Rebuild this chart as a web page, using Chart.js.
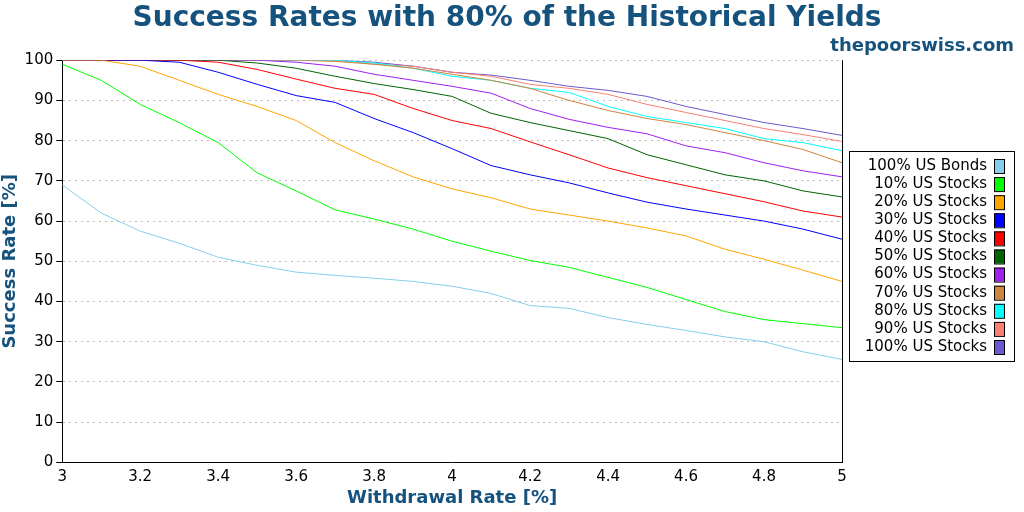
<!DOCTYPE html>
<html><head><meta charset="utf-8">
<script src="https://cdn.jsdelivr.net/npm/chart.js@4"></script>
<style>html,body{margin:0;padding:0;background:#fff}#w{width:1024px;height:512px}</style>
</head><body><div id="w"><canvas id="c"></canvas></div>
<script>
const rates = [3.0,3.1,3.2,3.3,3.4,3.5,3.6,3.7,3.8,3.9,4.0,4.1,4.2,4.3,4.4,4.5,4.6,4.7,4.8,4.9,5.0];
const labels = ['100% US Bonds','10% US Stocks','20% US Stocks','30% US Stocks','40% US Stocks','50% US Stocks','60% US Stocks','70% US Stocks','80% US Stocks','90% US Stocks','100% US Stocks'];
const colors = ['#87ceeb','#00ff00','#ffa500','#0000ff','#ff0000','#006400','#a020f0','#cd853f','#00ffff','#fa8072','#6a5acd'];
const bonds100 = [69,62,57.5,54.5,51,49,47.3,46.5,45.8,45,43.8,42,39,38.3,36,34.3,32.8,31.2,30,27.5,25.6];
const stocks10 = [99,95,89,84.5,79.5,72,67.5,62.8,60.5,58,55,52.5,50.2,48.5,46,43.5,40.5,37.5,35.5,34.5,33.5];
const stocks20 = [100,100,98.5,95,91.5,88.5,85,79.5,75,71,68,65.8,63,61.5,60,58.3,56.3,53,50.5,47.8,45];
const stocks30 = [100,100,100,99.5,97,94,91.2,89.5,85.5,82,78,73.8,71.5,69.5,67,64.7,63,61.5,60,58,55.5];
const stocks40 = [100,100,100,100,99.5,97.7,95.3,93,91.5,88,85,83,79.7,76.5,73.2,70.8,68.8,66.8,64.8,62.5,61];
const stocks50 = [100,100,100,100,100,99.3,98,96,94.2,92.7,91,86.8,84.5,82.5,80.5,76.5,74,71.5,70,67.5,66];
const stocks60 = [100,100,100,100,100,100,99.5,98.5,96.5,95,93.5,91.8,88,85.3,83.3,81.7,78.7,77,74.5,72.5,71];
const stocks70 = [100,100,100,100,100,100,100,99.7,99,98,96.5,95,93,90,87.5,85.5,84,82,80,77.8,74.5];
const stocks80 = [100,100,100,100,100,100,100,100,99.3,98,96,95,93,92,88.5,86,84.5,83,80.5,79.5,77.5];
const stocks90 = [100,100,100,100,100,100,100,100,99,98.5,97,96,94,93,91.5,89,87,85,83,81.5,79.8];
const stocks100 = [100,100,100,100,100,100,100,100,99.5,98.5,97,96.3,95,93.5,92.5,91,88.5,86.5,84.5,83,81.3];
const series = [bonds100,stocks10,stocks20,stocks30,stocks40,stocks50,stocks60,stocks70,stocks80,stocks90,stocks100];
const blue = '#15527e';

const legendBox = {
  id:'legendBox',
  afterDraw(chart){
    const ctx = chart.ctx, a = chart.chartArea;
    ctx.save();
    ctx.strokeStyle='#000'; ctx.lineWidth=1;
    ctx.beginPath(); ctx.moveTo(a.right+0.5,a.top); ctx.lineTo(a.right+0.5,a.bottom); ctx.stroke();
    const x0=849, y0=151, w=165, h=210, lh=18.1;
    ctx.strokeRect(x0+0.5,y0+0.5,w,h);
    ctx.font='15px "DejaVu Sans"'; ctx.textAlign='right'; ctx.textBaseline='middle';
    chart.data.datasets.forEach((d,i)=>{
      const y=y0+15+i*lh;
      ctx.fillStyle='#000'; ctx.fillText(d.label,x0+138,y);
      ctx.fillStyle=d.borderColor; ctx.fillRect(x0+145,y-7,11,14);
      ctx.strokeRect(x0+145.5,y-6.5,10,14);
    });
    ctx.restore();
  }
};

new Chart(document.getElementById('c'),{
  type:'line',
  data:{datasets: series.map((s,i)=>({label:labels[i],data:s.map((v,j)=>({x:rates[j],y:v})),borderColor:colors[i],backgroundColor:colors[i],borderWidth:1,pointRadius:0,tension:0}))},
  options:{
    responsive:true, maintainAspectRatio:false, animation:false,
    layout:{padding:{right:10,left:0,top:2,bottom:3}},
    plugins:{
      legend:{display:false},
      title:{display:true,text:'Success Rates with 80% of the Historical Yields',color:blue,font:{family:'DejaVu Sans',size:28,weight:'bold'},padding:{top:0,bottom:0}},
      subtitle:{display:true,text:'thepoorswiss.com',align:'end',color:blue,font:{family:'DejaVu Sans',size:18,weight:'bold'},padding:{top:0,bottom:3}},
      tooltip:{enabled:false}
    },
    scales:{
      x:{type:'linear',min:3,max:5,
        ticks:{stepSize:0.2,color:'#000',font:{family:'DejaVu Sans',size:15},padding:1,callback:v=>Math.round(v*10)/10},
        grid:{display:false,drawTicks:true,tickLength:5,tickColor:'#000'},
        border:{color:'#000'},
        title:{display:true,text:'Withdrawal Rate [%]',color:blue,font:{family:'DejaVu Sans',size:18,weight:'bold'},padding:{top:0,bottom:0}}},
      y:{min:0,max:100,
        ticks:{stepSize:10,color:'#000',font:{family:'DejaVu Sans',size:15}},
        grid:{color:'#bbb',tickColor:'#000',tickLength:6,drawOnChartArea:true},
        border:{color:'#000',dash:[2,4]},
        title:{display:true,text:'Success Rate [%]',color:blue,font:{family:'DejaVu Sans',size:18,weight:'bold'},padding:{top:0,bottom:0}}},
      spacer:{position:'right',display:true,ticks:{display:false},grid:{display:false,drawTicks:false},border:{display:false},
        afterFit(s){s.width=172;}}
    }
  },
  plugins:[legendBox]
});
</script></body></html>
